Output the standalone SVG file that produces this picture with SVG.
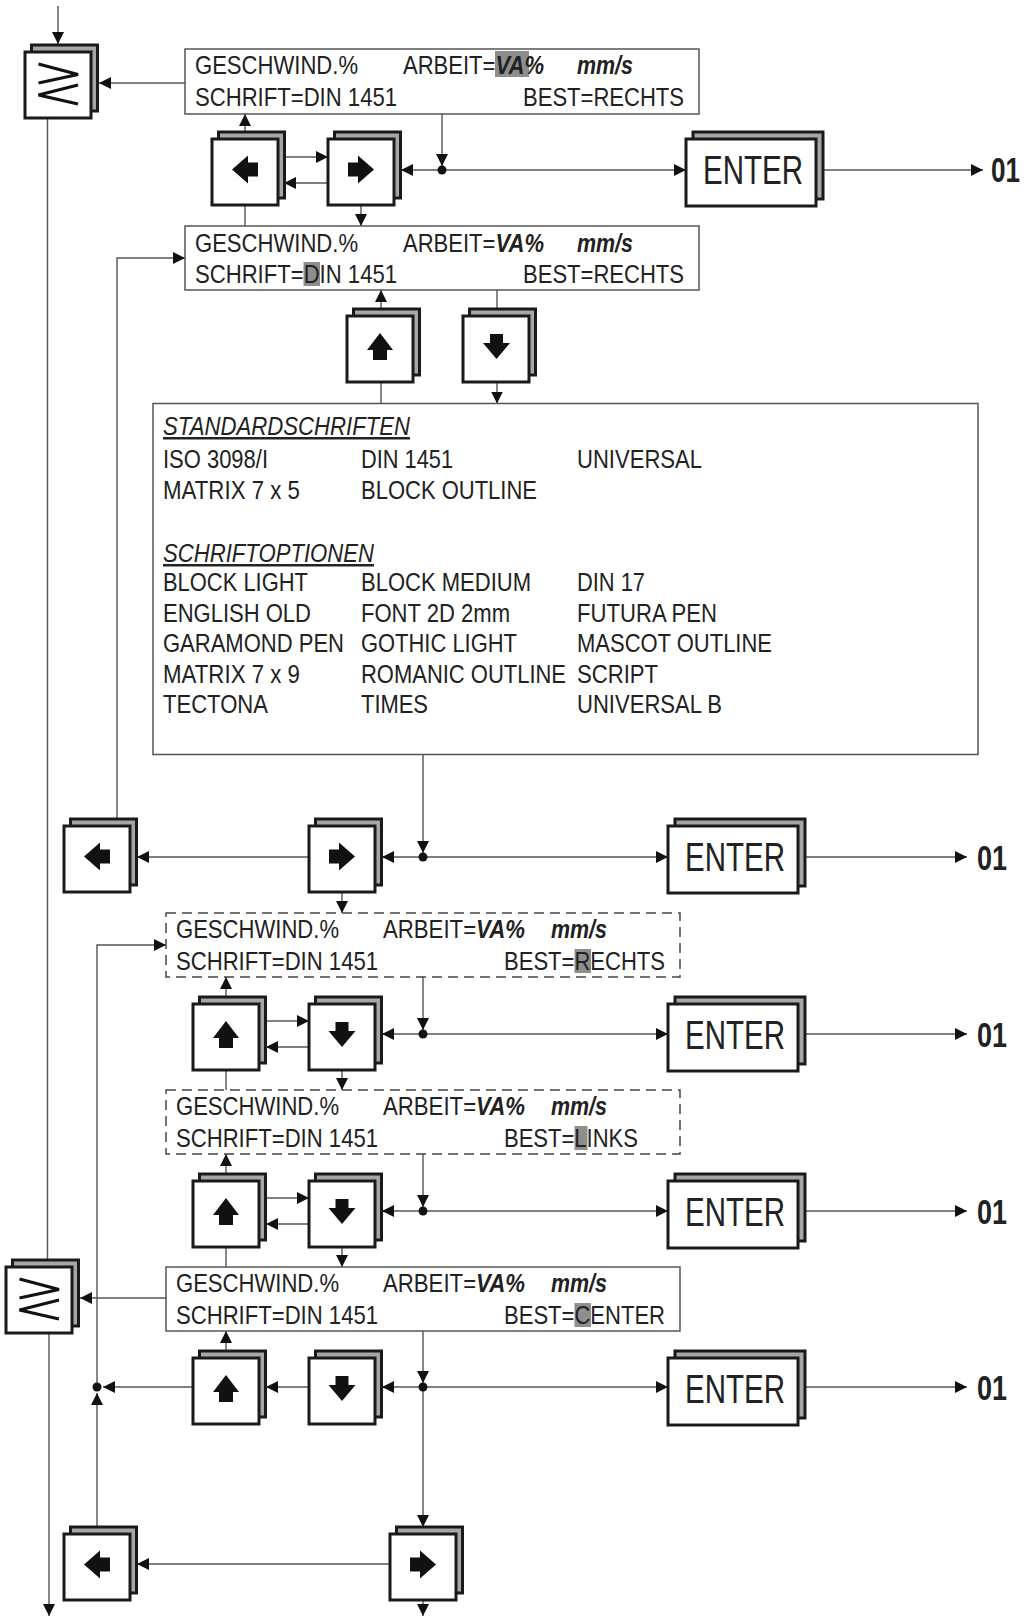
<svg xmlns="http://www.w3.org/2000/svg" xmlns:xlink="http://www.w3.org/1999/xlink" width="1029" height="1618" viewBox="0 0 1029 1618">
<style>
.ln{stroke:#555;stroke-width:1.4;fill:none}
.la{marker-end:url(#ah)}
.kb{fill:#a6a6a6;stroke:#1a1a1a;stroke-width:3}
.kf{fill:#fff;stroke:#1a1a1a;stroke-width:3}
.ds{fill:#fff;stroke:#555;stroke-width:1.5}
.dd{fill:#fff;stroke:#444;stroke-width:1.5;stroke-dasharray:10 6}
.t{font-family:"Liberation Sans",Arial,sans-serif;font-size:25px;fill:#222}
.bi{font-weight:bold;font-style:italic}
.it{font-style:italic;text-decoration:underline}
.hl{fill:#8e8e8e}
.ent{font-size:41px}
.o1{font-size:35px;font-weight:bold}
.ico{fill:#111}
.ge{fill:none;stroke:#111;stroke-width:3.2}
.dot{fill:#111}
</style>
<defs>
<marker id="ah" viewBox="0 0 12 12" refX="12" refY="6" markerWidth="12" markerHeight="12" markerUnits="userSpaceOnUse" orient="auto"><path d="M0,0 L12,6 L0,12 z" fill="#111"/></marker>
<g id="key"><rect class="kb" x="6.5" y="-7" width="66" height="66"/><rect class="kf" x="0" y="0" width="66" height="66"/></g>
<g id="ekey"><rect class="kb" x="7" y="-7" width="130" height="67"/><rect class="kf" x="0" y="0" width="130" height="67"/></g>
<polygon id="iL" class="ico" points="-13,0 3,-14 3,-7 13,-7 13,7 3,7 3,14"/>
<polygon id="iR" class="ico" points="13,0 -3,-14 -3,-7 -13,-7 -13,7 -3,7 -3,14"/>
<polygon id="iU" class="ico" points="0,-13.5 13,3.5 7,3.5 7,13.5 -7,13.5 -7,3.5 -13,3.5"/>
<polygon id="iD" class="ico" points="0,12.5 13.5,-3.5 6.5,-3.5 6.5,-12.5 -6.5,-12.5 -6.5,-3.5 -13.5,-3.5"/>
<g id="geSym"><polyline class="ge" points="13.5,12 53,22.5 13.5,31"/><polyline class="ge" points="53,33 13.5,43 53,52"/></g>
</defs>
<rect width="1029" height="1618" fill="#fff"/>

<g id="connectors">
<line class="ln la" x1="58" y1="6" x2="58" y2="44"/>
<line class="ln la" x1="185" y1="83" x2="99" y2="83"/>
<line class="ln" x1="47.5" y1="117" x2="47.5" y2="1261"/>
<line class="ln la" x1="49" y1="1333" x2="49" y2="1616"/>
<line class="ln la" x1="245" y1="132" x2="245" y2="114"/>
<line class="ln la" x1="284" y1="157" x2="328" y2="157"/>
<line class="ln la" x1="328" y1="183" x2="284" y2="183"/>
<line class="ln la" x1="442" y1="114" x2="442" y2="166"/>
<line class="ln la" x1="442" y1="170" x2="401" y2="170"/>
<line class="ln la" x1="442" y1="170" x2="686" y2="170"/>
<line class="ln la" x1="823" y1="170" x2="983" y2="170"/>
<line class="ln" x1="245" y1="205" x2="245" y2="226"/>
<line class="ln la" x1="361" y1="205" x2="361" y2="226"/>
<line class="ln la" x1="381" y1="309" x2="381" y2="290"/>
<line class="ln" x1="497" y1="290" x2="497" y2="309"/>
<line class="ln" x1="381" y1="382" x2="381" y2="403.5"/>
<line class="ln la" x1="497" y1="382" x2="497" y2="403.5"/>
<line class="ln la" x1="423" y1="754.5" x2="423" y2="853"/>
<line class="ln la" x1="423" y1="857" x2="382" y2="857"/>
<line class="ln la" x1="309" y1="857" x2="137" y2="857"/>
<polyline class="ln la" points="117,819 117,258 185,258"/>
<line class="ln la" x1="423" y1="857" x2="668" y2="857"/>
<line class="ln la" x1="805" y1="857" x2="967" y2="857"/>
<line class="ln la" x1="342" y1="892" x2="342" y2="913"/>
<line class="ln la" x1="226" y1="997" x2="226" y2="977"/>
<line class="ln la" x1="266" y1="1021" x2="309" y2="1021"/>
<line class="ln la" x1="309" y1="1047" x2="266" y2="1047"/>
<line class="ln la" x1="423" y1="977" x2="423" y2="1030"/>
<line class="ln la" x1="423" y1="1034" x2="382" y2="1034"/>
<line class="ln la" x1="423" y1="1034" x2="668" y2="1034"/>
<line class="ln la" x1="805" y1="1034" x2="967" y2="1034"/>
<line class="ln" x1="226" y1="1070" x2="226" y2="1090"/>
<line class="ln la" x1="342" y1="1070" x2="342" y2="1090"/>
<line class="ln la" x1="226" y1="1174" x2="226" y2="1154"/>
<line class="ln la" x1="266" y1="1198" x2="309" y2="1198"/>
<line class="ln la" x1="309" y1="1224" x2="266" y2="1224"/>
<line class="ln la" x1="423" y1="1154" x2="423" y2="1207"/>
<line class="ln la" x1="423" y1="1211" x2="382" y2="1211"/>
<line class="ln la" x1="423" y1="1211" x2="668" y2="1211"/>
<line class="ln la" x1="805" y1="1211" x2="967" y2="1211"/>
<line class="ln" x1="226" y1="1247" x2="226" y2="1267"/>
<line class="ln la" x1="342" y1="1247" x2="342" y2="1267"/>
<line class="ln la" x1="166" y1="1298" x2="80" y2="1298"/>
<line class="ln la" x1="226" y1="1351" x2="226" y2="1331"/>
<line class="ln la" x1="423" y1="1331" x2="423" y2="1383"/>
<line class="ln la" x1="423" y1="1387" x2="423" y2="1527"/>
<line class="ln la" x1="423" y1="1387" x2="382" y2="1387"/>
<line class="ln la" x1="309" y1="1387" x2="266" y2="1387"/>
<line class="ln la" x1="193" y1="1387" x2="103" y2="1387"/>
<line class="ln la" x1="97" y1="1527" x2="97" y2="1393"/>
<polyline class="ln la" points="97,1387 97,945 166,945"/>
<line class="ln la" x1="423" y1="1387" x2="668" y2="1387"/>
<line class="ln la" x1="805" y1="1387" x2="967" y2="1387"/>
<line class="ln la" x1="390" y1="1564" x2="137" y2="1564"/>
<line class="ln la" x1="423" y1="1599" x2="423" y2="1616"/>
<circle class="dot" cx="442" cy="170" r="4.5"/>
<circle class="dot" cx="423" cy="857" r="4.5"/>
<circle class="dot" cx="423" cy="1034" r="4.5"/>
<circle class="dot" cx="423" cy="1211" r="4.5"/>
<circle class="dot" cx="423" cy="1387" r="4.5"/>
<circle class="dot" cx="97" cy="1387" r="4.5"/>
</g>

<g id="key-ge-top"><use xlink:href="#key" x="25" y="52"/><use xlink:href="#geSym" x="25" y="52"/></g>
<g id="key-ge-bottom"><use xlink:href="#key" x="6" y="1267"/><use xlink:href="#geSym" x="6" y="1267"/></g>

<g id="display1">
<rect class="ds" x="185" y="49" width="514" height="65"/>
<rect class="hl" x="495" y="51" width="34" height="26"/>
<text class="t" x="195" y="74" textLength="163" lengthAdjust="spacingAndGlyphs">GESCHWIND.%</text>
<text class="t" x="403" y="74" textLength="141" lengthAdjust="spacingAndGlyphs">ARBEIT=<tspan class="bi">VA%</tspan></text>
<text class="t bi" x="577" y="74" textLength="56" lengthAdjust="spacingAndGlyphs">mm/s</text>
<text class="t" x="195" y="106" textLength="202" lengthAdjust="spacingAndGlyphs">SCHRIFT=DIN 1451</text>
<text class="t" x="523" y="106" textLength="161" lengthAdjust="spacingAndGlyphs">BEST=RECHTS</text>
</g>

<g id="key-left-1"><use xlink:href="#key" x="212" y="139"/><use xlink:href="#iL" x="245" y="169.5"/></g>
<g id="key-right-1"><use xlink:href="#key" x="328" y="139"/><use xlink:href="#iR" x="361" y="169.5"/></g>
<g id="enter-1"><use xlink:href="#ekey" x="686" y="139"/><text class="t ent" x="703" y="184" textLength="100" lengthAdjust="spacingAndGlyphs">ENTER</text></g>
<g id="out-1"><text class="t o1" x="991" y="182" textLength="29" lengthAdjust="spacingAndGlyphs">01</text></g>

<g id="display2">
<rect class="ds" x="185" y="226" width="514" height="64"/>
<rect class="hl" x="303.5" y="262" width="16.5" height="24"/>
<text class="t" x="195" y="252" textLength="163" lengthAdjust="spacingAndGlyphs">GESCHWIND.%</text>
<text class="t" x="403" y="252" textLength="141" lengthAdjust="spacingAndGlyphs">ARBEIT=<tspan class="bi">VA%</tspan></text>
<text class="t bi" x="577" y="252" textLength="56" lengthAdjust="spacingAndGlyphs">mm/s</text>
<text class="t" x="195" y="283" textLength="202" lengthAdjust="spacingAndGlyphs">SCHRIFT=DIN 1451</text>
<text class="t" x="523" y="283" textLength="161" lengthAdjust="spacingAndGlyphs">BEST=RECHTS</text>
</g>

<g id="key-up-1"><use xlink:href="#key" x="347" y="316"/><use xlink:href="#iU" x="380" y="346.5"/></g>
<g id="key-down-1"><use xlink:href="#key" x="463" y="316"/><use xlink:href="#iD" x="496.5" y="346.5"/></g>

<g id="font-list">
<rect class="ds" x="153" y="403.5" width="825" height="351"/>
<text class="t it" x="163" y="435" textLength="247" lengthAdjust="spacingAndGlyphs">STANDARDSCHRIFTEN</text>
<text class="t" x="163" y="468" textLength="105" lengthAdjust="spacingAndGlyphs">ISO 3098/I</text>
<text class="t" x="361" y="468" textLength="92" lengthAdjust="spacingAndGlyphs">DIN 1451</text>
<text class="t" x="577" y="468" textLength="125" lengthAdjust="spacingAndGlyphs">UNIVERSAL</text>
<text class="t" x="163" y="499" textLength="137" lengthAdjust="spacingAndGlyphs">MATRIX 7 x 5</text>
<text class="t" x="361" y="499" textLength="176" lengthAdjust="spacingAndGlyphs">BLOCK OUTLINE</text>
<text class="t it" x="163" y="562" textLength="211" lengthAdjust="spacingAndGlyphs">SCHRIFTOPTIONEN</text>
<text class="t" x="163" y="591" textLength="145" lengthAdjust="spacingAndGlyphs">BLOCK LIGHT</text>
<text class="t" x="361" y="591" textLength="170" lengthAdjust="spacingAndGlyphs">BLOCK MEDIUM</text>
<text class="t" x="577" y="591" textLength="68" lengthAdjust="spacingAndGlyphs">DIN 17</text>
<text class="t" x="163" y="622" textLength="148" lengthAdjust="spacingAndGlyphs">ENGLISH OLD</text>
<text class="t" x="361" y="622" textLength="149" lengthAdjust="spacingAndGlyphs">FONT 2D 2mm</text>
<text class="t" x="577" y="622" textLength="140" lengthAdjust="spacingAndGlyphs">FUTURA PEN</text>
<text class="t" x="163" y="652" textLength="181" lengthAdjust="spacingAndGlyphs">GARAMOND PEN</text>
<text class="t" x="361" y="652" textLength="156" lengthAdjust="spacingAndGlyphs">GOTHIC LIGHT</text>
<text class="t" x="577" y="652" textLength="195" lengthAdjust="spacingAndGlyphs">MASCOT OUTLINE</text>
<text class="t" x="163" y="683" textLength="137" lengthAdjust="spacingAndGlyphs">MATRIX 7 x 9</text>
<text class="t" x="361" y="683" textLength="205" lengthAdjust="spacingAndGlyphs">ROMANIC OUTLINE</text>
<text class="t" x="577" y="683" textLength="81" lengthAdjust="spacingAndGlyphs">SCRIPT</text>
<text class="t" x="163" y="713" textLength="105" lengthAdjust="spacingAndGlyphs">TECTONA</text>
<text class="t" x="361" y="713" textLength="67" lengthAdjust="spacingAndGlyphs">TIMES</text>
<text class="t" x="577" y="713" textLength="145" lengthAdjust="spacingAndGlyphs">UNIVERSAL B</text>
</g>

<g id="key-left-2"><use xlink:href="#key" x="64" y="826"/><use xlink:href="#iL" x="97" y="856.5"/></g>
<g id="key-right-2"><use xlink:href="#key" x="309" y="826"/><use xlink:href="#iR" x="342" y="856.5"/></g>
<g id="enter-2"><use xlink:href="#ekey" x="668" y="826"/><text class="t ent" x="685" y="871" textLength="100" lengthAdjust="spacingAndGlyphs">ENTER</text></g>
<g id="out-2"><text class="t o1" x="977" y="870" textLength="30" lengthAdjust="spacingAndGlyphs">01</text></g>

<g id="display3">
<rect class="dd" x="166" y="913" width="514" height="64"/>
<rect class="hl" x="574.5" y="949" width="16.5" height="24"/>
<text class="t" x="176" y="938" textLength="163" lengthAdjust="spacingAndGlyphs">GESCHWIND.%</text>
<text class="t" x="383" y="938" textLength="142" lengthAdjust="spacingAndGlyphs">ARBEIT=<tspan class="bi">VA%</tspan></text>
<text class="t bi" x="551" y="938" textLength="56" lengthAdjust="spacingAndGlyphs">mm/s</text>
<text class="t" x="176" y="970" textLength="202" lengthAdjust="spacingAndGlyphs">SCHRIFT=DIN 1451</text>
<text class="t" x="504" y="970" textLength="161" lengthAdjust="spacingAndGlyphs">BEST=RECHTS</text>
</g>

<g id="key-up-2"><use xlink:href="#key" x="193" y="1004"/><use xlink:href="#iU" x="226" y="1034.5"/></g>
<g id="key-down-2"><use xlink:href="#key" x="309" y="1004"/><use xlink:href="#iD" x="342" y="1034.5"/></g>
<g id="enter-3"><use xlink:href="#ekey" x="668" y="1004"/><text class="t ent" x="685" y="1049" textLength="100" lengthAdjust="spacingAndGlyphs">ENTER</text></g>
<g id="out-3"><text class="t o1" x="977" y="1047" textLength="30" lengthAdjust="spacingAndGlyphs">01</text></g>

<g id="display4">
<rect class="dd" x="166" y="1090" width="514" height="64"/>
<rect class="hl" x="574.5" y="1126" width="13" height="24"/>
<text class="t" x="176" y="1115" textLength="163" lengthAdjust="spacingAndGlyphs">GESCHWIND.%</text>
<text class="t" x="383" y="1115" textLength="142" lengthAdjust="spacingAndGlyphs">ARBEIT=<tspan class="bi">VA%</tspan></text>
<text class="t bi" x="551" y="1115" textLength="56" lengthAdjust="spacingAndGlyphs">mm/s</text>
<text class="t" x="176" y="1147" textLength="202" lengthAdjust="spacingAndGlyphs">SCHRIFT=DIN 1451</text>
<text class="t" x="504" y="1147" textLength="134" lengthAdjust="spacingAndGlyphs">BEST=LINKS</text>
</g>

<g id="key-up-3"><use xlink:href="#key" x="193" y="1181"/><use xlink:href="#iU" x="226" y="1211.5"/></g>
<g id="key-down-3"><use xlink:href="#key" x="309" y="1181"/><use xlink:href="#iD" x="342" y="1211.5"/></g>
<g id="enter-4"><use xlink:href="#ekey" x="668" y="1181"/><text class="t ent" x="685" y="1226" textLength="100" lengthAdjust="spacingAndGlyphs">ENTER</text></g>
<g id="out-4"><text class="t o1" x="977" y="1224" textLength="30" lengthAdjust="spacingAndGlyphs">01</text></g>

<g id="display5">
<rect class="ds" x="166" y="1267" width="514" height="64"/>
<rect class="hl" x="574.5" y="1303" width="16.5" height="24"/>
<text class="t" x="176" y="1292" textLength="163" lengthAdjust="spacingAndGlyphs">GESCHWIND.%</text>
<text class="t" x="383" y="1292" textLength="142" lengthAdjust="spacingAndGlyphs">ARBEIT=<tspan class="bi">VA%</tspan></text>
<text class="t bi" x="551" y="1292" textLength="56" lengthAdjust="spacingAndGlyphs">mm/s</text>
<text class="t" x="176" y="1324" textLength="202" lengthAdjust="spacingAndGlyphs">SCHRIFT=DIN 1451</text>
<text class="t" x="504" y="1324" textLength="161" lengthAdjust="spacingAndGlyphs">BEST=CENTER</text>
</g>

<g id="key-up-4"><use xlink:href="#key" x="193" y="1358"/><use xlink:href="#iU" x="226" y="1388.5"/></g>
<g id="key-down-4"><use xlink:href="#key" x="309" y="1358"/><use xlink:href="#iD" x="342" y="1388.5"/></g>
<g id="enter-5"><use xlink:href="#ekey" x="668" y="1358"/><text class="t ent" x="685" y="1403" textLength="100" lengthAdjust="spacingAndGlyphs">ENTER</text></g>
<g id="out-5"><text class="t o1" x="977" y="1400" textLength="30" lengthAdjust="spacingAndGlyphs">01</text></g>

<g id="key-left-3"><use xlink:href="#key" x="64" y="1534"/><use xlink:href="#iL" x="97" y="1564.5"/></g>
<g id="key-right-3"><use xlink:href="#key" x="390" y="1534"/><use xlink:href="#iR" x="423" y="1564.5"/></g>
</svg>
